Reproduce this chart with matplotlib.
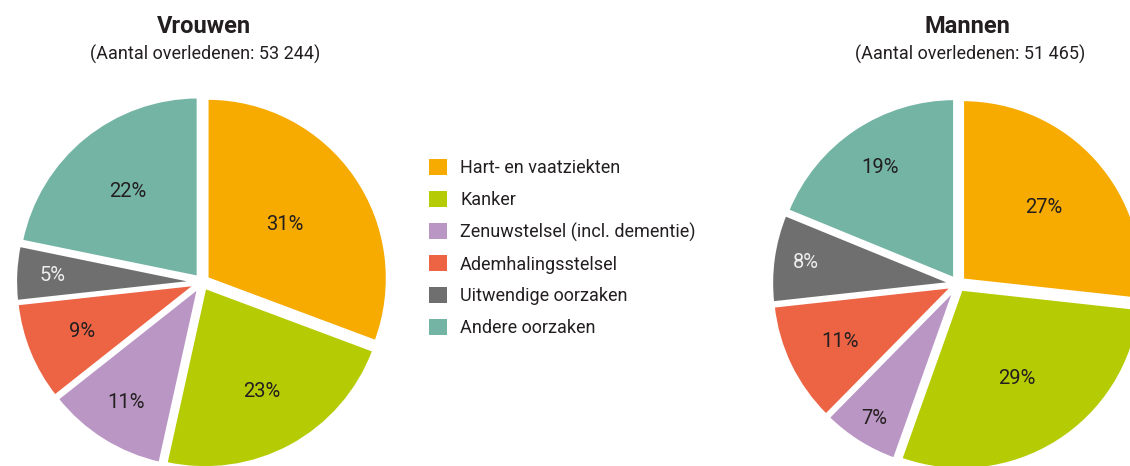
import numpy as np
import matplotlib.pyplot as plt

plt.rcParams['font.family'] = ['Roboto', 'DejaVu Sans']

categories = [
    "Hart- en vaatziekten",
    "Kanker",
    "Zenuwstelsel (incl. dementie)",
    "Ademhalingsstelsel",
    "Uitwendige oorzaken",
    "Andere oorzaken",
]
vrouwen = [31, 23, 11, 9, 5, 22]
mannen = [27, 29, 7, 11, 8, 19]
totaal_vrouwen = "53 244"
totaal_mannen = "51 465"

colors = ["#F7AA00", "#B5CC04", "#BA96C4", "#ED6445", "#6F6F6F", "#74B4A4"]
label_colors = ["#231F20"] * 4 + ["#EEEEEE", "#231F20"]

# label distance from centre, per slice (fraction of radius)
dist_v = [0.56, 0.69, 0.79, 0.72, 0.83, 0.65]
dist_m = [0.64, 0.62, 0.88, 0.73, 0.855, 0.78]

W, H = 1130, 466
fig = plt.figure(figsize=(W / 100, H / 100), dpi=100)

R = 180  # pie radius in px


def draw_pie(cx, cy, values, dists):
    # axes box of 2.5 radii around the centre (pixel coords, y from top)
    size = 2.5 * R
    ax = fig.add_axes([(cx - size / 2) / W, (H - cy - size / 2) / H,
                       size / W, size / H])
    wedges, _ = ax.pie(
        values,
        colors=colors,
        startangle=90,
        counterclock=False,
        explode=[0.035] * len(values),
        wedgeprops=dict(edgecolor="white", linewidth=2),
    )
    for w, v, d, c in zip(wedges, values, dists, label_colors):
        ang = np.deg2rad((w.theta1 + w.theta2) / 2)
        ax.text(d * np.cos(ang), d * np.sin(ang), f"{v}%",
                ha="center", va="center", fontsize=14.5, color=c)
    ax.set_xlim(-1.25, 1.25)
    ax.set_ylim(-1.25, 1.25)
    ax.set_aspect("equal")
    ax.axis("off")
    return wedges


wedges = draw_pie(202, 282, vrouwen, dist_v)
draw_pie(958, 284, mannen, dist_m)

# titles
fig.text(204 / W, 1 - 33 / H, "Vrouwen", ha="center", va="baseline",
         fontsize=17, fontweight="bold", color="#231F20")
fig.text(205 / W, 1 - 60 / H, f"(Aantal overledenen: {totaal_vrouwen})",
         ha="center", va="baseline", fontsize=13, color="#231F20")
fig.text(967 / W, 1 - 33 / H, "Mannen", ha="center", va="baseline",
         fontsize=17, fontweight="bold", color="#231F20")
fig.text(970 / W, 1 - 60 / H, f"(Aantal overledenen: {totaal_mannen})",
         ha="center", va="baseline", fontsize=13, color="#231F20")

leg = fig.legend(
    wedges, categories,
    loc="upper left",
    bbox_to_anchor=(429 / W, 1 - 159 / H),
    frameon=False,
    prop=dict(size=13),
    handlelength=1.0,
    handleheight=1.0,
    handletextpad=0.72,
    labelspacing=0.75,
    borderpad=0,
    borderaxespad=0,
)
for t in leg.get_texts():
    t.set_color("#231F20")
for h in leg.legend_handles:
    h.set_linewidth(0)

fig.savefig("out.png", dpi=100)
